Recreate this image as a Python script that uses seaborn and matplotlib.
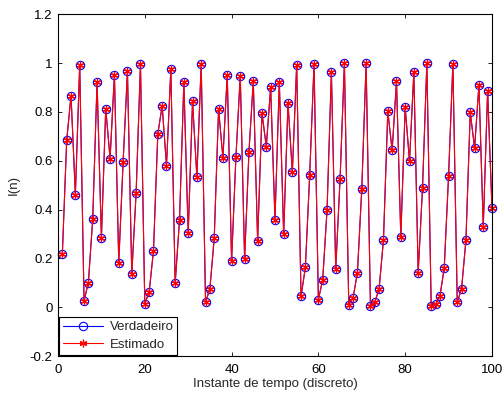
import numpy as np
import pandas as pd
import seaborn as sns
import matplotlib
matplotlib.use("Agg")
import matplotlib.pyplot as plt

# Time index and series values
instantes = list(range(1, 101))
verdadeiro = [
    0.218, 0.683, 0.867, 0.460, 0.994, 0.027, 0.101, 0.361, 0.923, 0.283,
    0.813, 0.609, 0.953, 0.183, 0.594, 0.966, 0.136, 0.468, 0.997, 0.015,
    0.061, 0.232, 0.710, 0.825, 0.580, 0.975, 0.098, 0.357, 0.921, 0.302,
    0.843, 0.535, 0.996, 0.020, 0.076, 0.283, 0.811, 0.613, 0.952, 0.190,
    0.616, 0.949, 0.198, 0.636, 0.927, 0.273, 0.795, 0.658, 0.902, 0.358,
    0.922, 0.299, 0.836, 0.553, 0.992, 0.044, 0.163, 0.542, 0.996, 0.031,
    0.113, 0.399, 0.962, 0.157, 0.526, 1.000, 0.009, 0.039, 0.142, 0.483,
    1.000, 0.005, 0.020, 0.076, 0.276, 0.802, 0.642, 0.925, 0.287, 0.820,
    0.597, 0.964, 0.142, 0.489, 1.000, 0.005, 0.011, 0.044, 0.160, 0.537,
    0.998, 0.020, 0.076, 0.274, 0.798, 0.652, 0.911, 0.330, 0.886, 0.408,
]
estimado = list(verdadeiro)

x_ticks = [0, 20, 40, 60, 80, 100]
y_ticks = [-0.2, 0, 0.2, 0.4, 0.6, 0.8, 1.0, 1.2]

sns.set_theme(style="white")
plt.rcParams["font.family"] = ["Liberation Sans", "DejaVu Sans"]
plt.rcParams["font.size"] = 9.5

df = pd.DataFrame({"n": instantes, "verdadeiro": verdadeiro, "estimado": estimado})

fig = plt.figure(figsize=(5.04, 3.96), dpi=100)
ax = fig.add_axes([0.1151, 0.101, 0.861, 0.863])

sns.lineplot(data=df, x="n", y="verdadeiro", ax=ax, color="blue", lw=0.8,
             marker="o", markersize=6, markerfacecolor="none",
             markeredgecolor="blue", markeredgewidth=0.8, label="Verdadeiro",
             clip_on=False, zorder=3)
sns.lineplot(data=df, x="n", y="estimado", ax=ax, color="red", lw=0.8,
             marker=(6, 2, 0), markersize=5.5, markerfacecolor="red",
             markeredgecolor="red", markeredgewidth=0.9, label="Estimado",
             clip_on=False, zorder=4)

ax.set_xlim(0, 100)
ax.set_ylim(-0.2, 1.2)
ax.set_xticks(x_ticks)
ax.set_xticklabels([str(t) for t in x_ticks])
ax.set_yticks(y_ticks)
ax.set_yticklabels(["-0.2", "0", "0.2", "0.4", "0.6", "0.8", "1", "1.2"])
ax.tick_params(axis="both", direction="in", length=3, width=0.6, top=True,
               right=True, bottom=True, left=True, labelsize=9.5, colors="black")
ax.tick_params(axis="x", pad=6)
ax.tick_params(axis="y", pad=4)
for s in ax.spines.values():
    s.set_color("black")
    s.set_linewidth(0.8)
    s.set_zorder(5)

ax.set_xlabel("Instante de tempo (discreto)", fontsize=9.5, labelpad=1)
ax.set_ylabel("I(n)", fontsize=9.5, labelpad=7)

leg = ax.legend(loc="lower left", fontsize=9.5, frameon=True, fancybox=False,
                borderaxespad=0.1, handlelength=3.0, borderpad=0.3,
                labelspacing=0.4, handletextpad=0.5)
leg.get_frame().set_edgecolor("black")
leg.get_frame().set_linewidth(0.8)
leg.get_frame().set_alpha(1)
leg.set_zorder(6)

fig.savefig("out.png", dpi=100)
